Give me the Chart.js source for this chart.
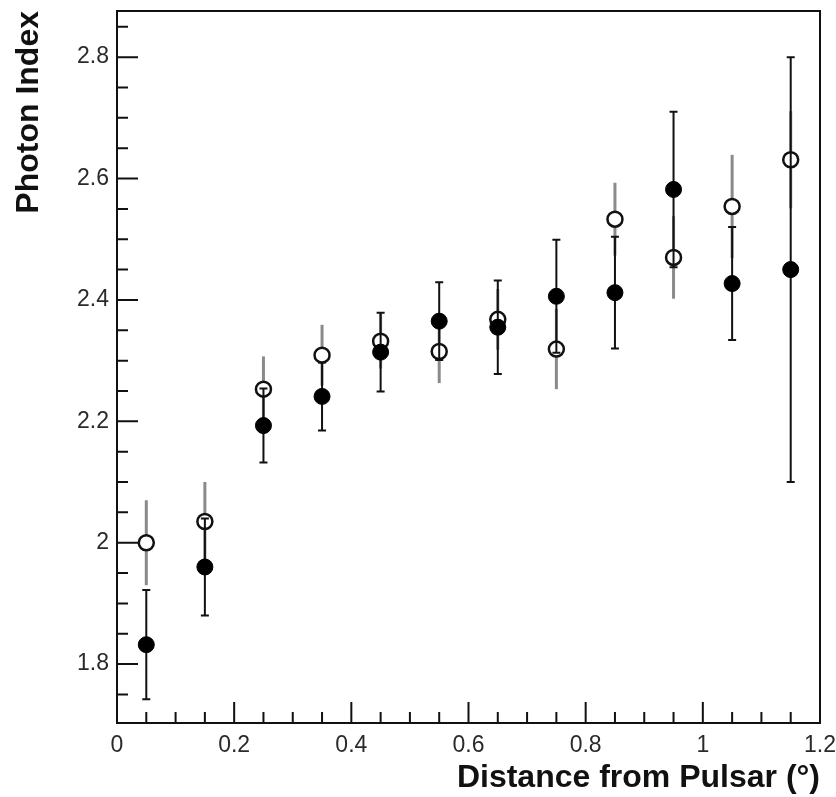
<!DOCTYPE html>
<html>
<head>
<meta charset="utf-8">
<script src="https://cdn.jsdelivr.net/npm/chart.js@4/dist/chart.umd.min.js"></script>
<style>
  html, body { margin: 0; padding: 0; background: #fff; }
  #wrap { width: 836px; height: 797px; }
</style>
</head>
<body>
<div id="wrap"><canvas id="chart" width="836" height="797"></canvas></div>
<script>
// photon index vs distance from pulsar
// two series: filled circles (black bars with caps), open circles (grey bars, no caps)

const distances = [0.05, 0.15, 0.25, 0.35, 0.45, 0.55, 0.65, 0.75, 0.85, 0.95, 1.05, 1.15];

const filledIndex = [1.832, 1.960, 2.193, 2.241, 2.314, 2.365, 2.355, 2.406, 2.412, 2.582, 2.427, 2.450];
const filledErr   = [0.090, 0.080, 0.061, 0.056, 0.065, 0.064, 0.077, 0.093, 0.092, 0.128, 0.093, 0.350];

const openIndex = [2.000, 2.035, 2.253, 2.309, 2.332, 2.315, 2.368, 2.319, 2.533, 2.470, 2.554, 2.631];
const openErr   = [0.070, 0.065, 0.054, 0.050, 0.045, 0.052, 0.050, 0.066, 0.060, 0.068, 0.085, 0.080];

const xMajorTicks = [0, 0.2, 0.4, 0.6, 0.8, 1, 1.2];
const xMinorTicks = [0.05, 0.1, 0.15, 0.25, 0.3, 0.35, 0.45, 0.5, 0.55, 0.65, 0.7, 0.75,
                     0.85, 0.9, 0.95, 1.05, 1.1, 1.15];
const yMajorTicks = [1.8, 2, 2.2, 2.4, 2.6, 2.8];
const yMinorTicks = [1.75, 1.85, 1.9, 1.95, 2.05, 2.1, 2.15, 2.25, 2.3, 2.35, 2.45, 2.5,
                     2.55, 2.65, 2.7, 2.75, 2.85];

const FONT = "'Liberation Sans', Arial, Helvetica, sans-serif";

// error bars are drawn just before their own dataset so markers sit on top
const errorBars = {
  id: 'errorBars',
  beforeDatasetDraw(chart, args) {
    const ctx = chart.ctx;
    const xs = chart.scales.x, ys = chart.scales.y;
    const vals = args.index === 0 ? filledIndex : openIndex;
    const errs = args.index === 0 ? filledErr : openErr;
    ctx.save();
    for (let i = 0; i < distances.length; i++) {
      const px = xs.getPixelForValue(distances[i]);
      const top = ys.getPixelForValue(vals[i] + errs[i]);
      const bot = ys.getPixelForValue(vals[i] - errs[i]);
      ctx.beginPath();
      if (args.index === 0) {
        ctx.strokeStyle = '#111';
        ctx.lineWidth = 2;
        ctx.moveTo(px, top); ctx.lineTo(px, bot);
        ctx.moveTo(px - 4, top); ctx.lineTo(px + 4, top);
        ctx.moveTo(px - 4, bot); ctx.lineTo(px + 4, bot);
      } else {
        ctx.strokeStyle = '#8a8a8a';
        ctx.lineWidth = 3;
        ctx.moveTo(px, top); ctx.lineTo(px, bot);
      }
      ctx.stroke();
    }
    ctx.restore();
  }
};

// frame plus inward ticks (major long, minor short)
const frameTicks = {
  id: 'frameTicks',
  afterDraw(chart) {
    const ctx = chart.ctx;
    const a = chart.chartArea;
    const xs = chart.scales.x, ys = chart.scales.y;
    ctx.save();
    ctx.strokeStyle = '#111';
    ctx.lineWidth = 2;
    ctx.strokeRect(a.left, a.top, a.right - a.left, a.bottom - a.top);
    ctx.beginPath();
    xMajorTicks.forEach(v => {
      const p = xs.getPixelForValue(v);
      ctx.moveTo(p, a.bottom); ctx.lineTo(p, a.bottom - 21);
    });
    xMinorTicks.forEach(v => {
      const p = xs.getPixelForValue(v);
      ctx.moveTo(p, a.bottom); ctx.lineTo(p, a.bottom - 11);
    });
    yMajorTicks.forEach(v => {
      const p = ys.getPixelForValue(v);
      ctx.moveTo(a.left, p); ctx.lineTo(a.left + 21, p);
    });
    yMinorTicks.forEach(v => {
      const p = ys.getPixelForValue(v);
      ctx.moveTo(a.left, p); ctx.lineTo(a.left + 11, p);
    });
    ctx.stroke();
    ctx.restore();
  }
};

const toPoints = (ys) => distances.map((x, i) => ({ x, y: ys[i] }));

new Chart(document.getElementById('chart'), {
  type: 'scatter',
  data: {
    datasets: [
      {
        label: 'filled',
        data: toPoints(filledIndex),
        pointRadius: 8,
        pointBackgroundColor: '#000',
        pointBorderColor: '#000',
        pointBorderWidth: 1,
        order: 0
      },
      {
        label: 'open',
        data: toPoints(openIndex),
        pointRadius: 7.5,
        pointBackgroundColor: '#fff',
        pointBorderColor: '#111',
        pointBorderWidth: 2.5,
        order: 1
      }
    ]
  },
  options: {
    responsive: false,
    animation: false,
    events: [],
    layout: { padding: { left: 0, right: 16, top: 11, bottom: 0 } },
    plugins: {
      legend: { display: false },
      tooltip: { enabled: false }
    },
    scales: {
      x: {
        type: 'linear',
        min: 0,
        max: 1.2,
        afterFit: (s) => { s.height = 74; s.paddingLeft = 0; s.paddingRight = 0; },
        afterBuildTicks: (s) => { s.ticks = xMajorTicks.map(v => ({ value: v })); },
        grid: { display: false, drawTicks: false },
        border: { display: false },
        ticks: {
          padding: 9,
          color: '#2a2a2a',
          font: { family: FONT, size: 23 },
          callback: (v) => String(v)
        },
        title: {
          display: true,
          text: 'Distance from Pulsar (°)',
          align: 'end',
          color: '#111',
          padding: { top: 0, bottom: 0 },
          font: { family: FONT, size: 32, weight: 'bold' }
        }
      },
      y: {
        type: 'linear',
        min: 1.703,
        max: 2.876,
        afterFit: (s) => { s.width = 117; s.paddingTop = 0; s.paddingBottom = 0; },
        afterBuildTicks: (s) => { s.ticks = yMajorTicks.map(v => ({ value: v })); },
        grid: { display: false, drawTicks: false },
        border: { display: false },
        ticks: {
          padding: 8,
          color: '#2a2a2a',
          font: { family: FONT, size: 23 },
          callback: (v) => String(v)
        },
        title: {
          display: true,
          text: 'Photon Index',
          align: 'end',
          color: '#111',
          padding: { top: 10, bottom: 0 },
          font: { family: FONT, size: 32, weight: 'bold' }
        }
      }
    }
  },
  plugins: [errorBars, frameTicks]
});
</script>
</body>
</html>
